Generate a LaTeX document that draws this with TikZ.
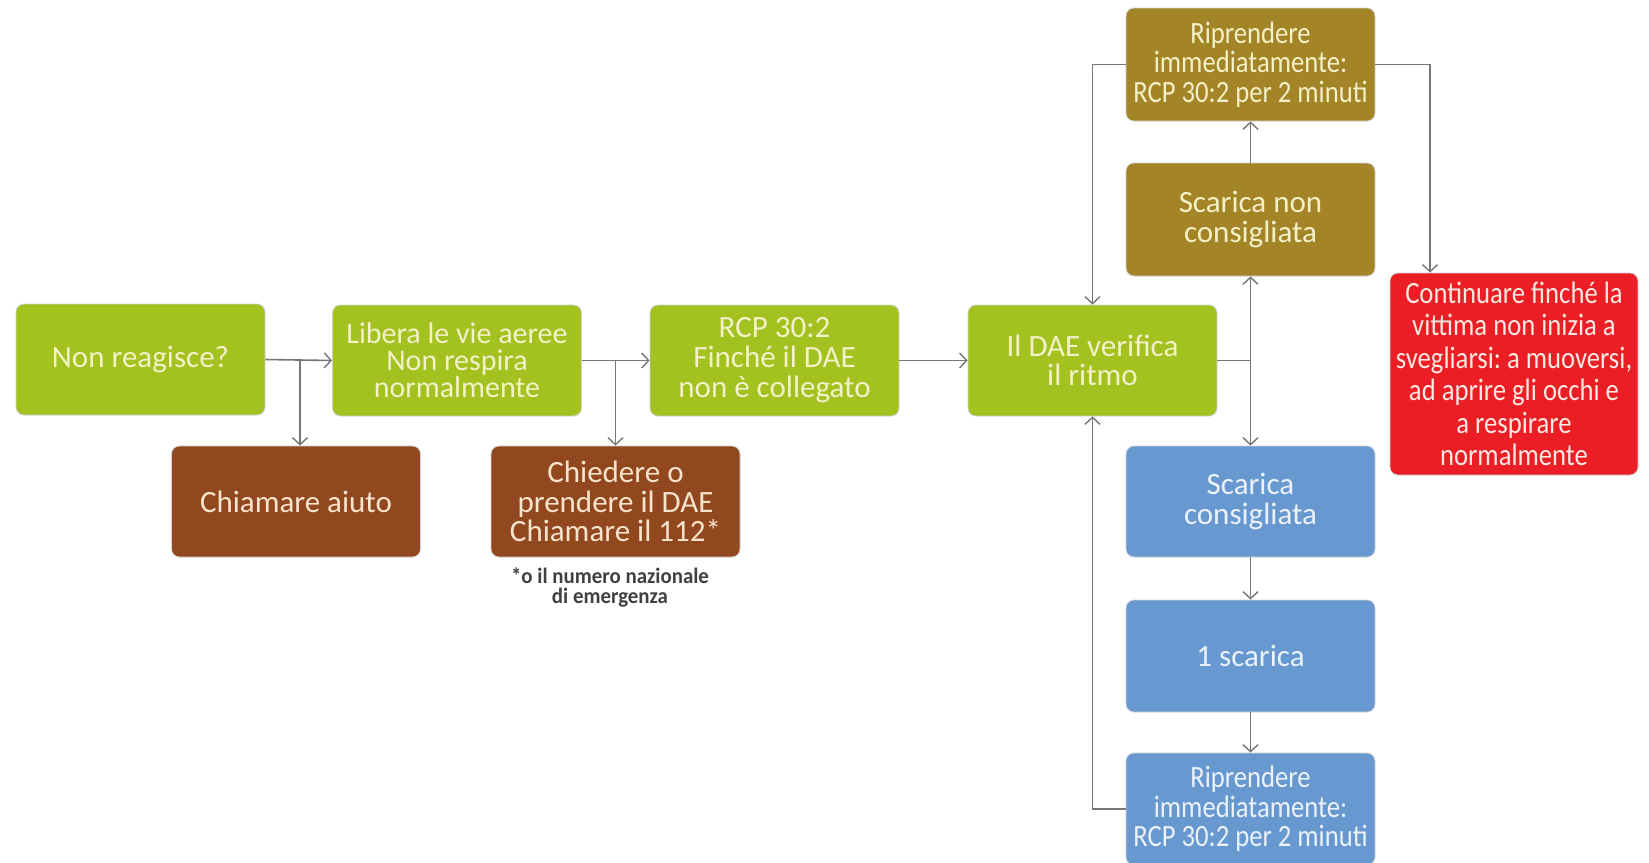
\documentclass[tikz,border=0pt]{standalone}
\usepackage{fontspec}
\setmainfont{Carlito}
\newfontfamily\condfont[FakeStretch=0.86]{Carlito}
\newfontfamily\notefont[FakeStretch=0.95]{Carlito}
\usetikzlibrary{arrows.meta}
\frenchspacing
\definecolor{cgreen}{RGB}{163,193,31}
\definecolor{cbrown}{RGB}{145,72,30}
\definecolor{colive}{RGB}{163,132,38}
\definecolor{cblue}{RGB}{103,152,208}
\definecolor{cred}{RGB}{234,30,36}
\definecolor{cline}{RGB}{118,118,118}
\definecolor{tgreen}{RGB}{244,241,200}
\definecolor{tbrown}{RGB}{247,228,204}
\definecolor{tblue}{RGB}{236,242,250}
\definecolor{tred}{RGB}{253,232,226}
\tikzset{
  box/.style={rectangle, rounded corners=8pt, minimum width=249pt, minimum height=111pt,
    align=center, inner sep=1pt, draw=black!18, line width=0.8pt,
    font=\fontsize{31}{29.5}\selectfont},
  gbox/.style={box, fill=cgreen, text=tgreen},
  bbox/.style={box, fill=cbrown, text=tbrown},
  obox/.style={box, fill=colive, text=tgreen},
  ubox/.style={box, fill=cblue, text=tblue},
  rbox/.style={box, fill=cred, text=tred},
  arr/.style={draw=cline, line width=1.6pt, -{Straight Barb[length=7pt,width=15pt,line width=1.4pt]}},
  ln/.style={draw=cline, line width=1.6pt},
}
\begin{document}
\begin{tikzpicture}[x=1pt,y=-1pt]
\useasboundingbox[fill=white] (0,0) rectangle (1649,862);
\begin{scope}
\clip (0,0) rectangle (1649,862);
\node[gbox] (nr) at (140.5,359.5) {Non reagisce?};
\node[gbox, font=\fontsize{30}{27}\selectfont] (lib) at (457,360.5) {Libera le vie aeree\\Non respira\\normalmente};
\node[gbox, font=\fontsize{31}{30}\selectfont] (rcp) at (774.5,360.5) {RCP 30:2\\Finché il DAE\\non è collegato};
\node[gbox] (dae) at (1092.5,360.5) {Il DAE verifica\\il ritmo};
\node[bbox] (aiuto) at (296,501.5) {Chiamare aiuto};
\node[bbox] (prendi) at (615.5,501.5) {Chiedere o\\prendere il DAE\\Chiamare il 112*};
\node[font=\notefont\bfseries\fontsize{22}{20}\selectfont, text=black!75, align=center] (nota) at (610,587) {*o il numero nazionale\\di emergenza};
\node[obox, minimum height=113pt, font=\condfont\fontsize{31}{29.5}\selectfont] (rip1) at (1250.5,64.5) {Riprendere\\immediatamente:\\RCP 30:2 per 2 minuti};
\node[obox, minimum height=113pt] (snc) at (1250.5,219.5) {Scarica non\\consigliata};
\node[rbox, minimum width=248pt, minimum height=202pt, font=\condfont\fontsize{31}{32.5}\selectfont] (cont) at (1514,374) {Continuare finché la\\vittima non inizia a\\svegliarsi: a muoversi,\\ad aprire gli occhi e\\a respirare\\normalmente};
\node[ubox] (sc) at (1250.5,501.5) {Scarica\\consigliata};
\node[ubox, minimum height=112pt] (s1) at (1250.5,656) {1 scarica};
\node[ubox, minimum height=112pt, font=\condfont\fontsize{31}{29.5}\selectfont] (rip2) at (1250.5,809) {Riprendere\\immediatamente:\\RCP 30:2 per 2 minuti};
\end{scope}
% connectors
\coordinate (b1) at (300,360);
\coordinate (b2) at (615.5,360);
\coordinate (b3) at (1250.5,360.5);
\coordinate (k) at (1430,0);
\draw[arr] (nr.east) -- (lib.west);
\draw[arr] (b1) -- (b1 |- aiuto.north);
\draw[arr] (lib.east) -- (rcp.west);
\draw[arr] (b2) -- (b2 |- prendi.north);
\draw[arr] (rcp.east) -- (dae.west);
\draw[ln] (dae.east) -- (b3);
\draw[arr] (b3) -- (snc.south);
\draw[arr] (b3) -- (sc.north);
\draw[arr] (snc.north) -- (rip1.south);
\draw[arr] (rip1.west) -| (dae.north);
\draw[arr] (rip1.east) -| (k |- cont.north);
\draw[arr] (sc.south) -- (s1.north);
\draw[arr] (s1.south) -- (rip2.north);
\draw[arr] (rip2.west) -| (dae.south);
\end{tikzpicture}
\end{document}
